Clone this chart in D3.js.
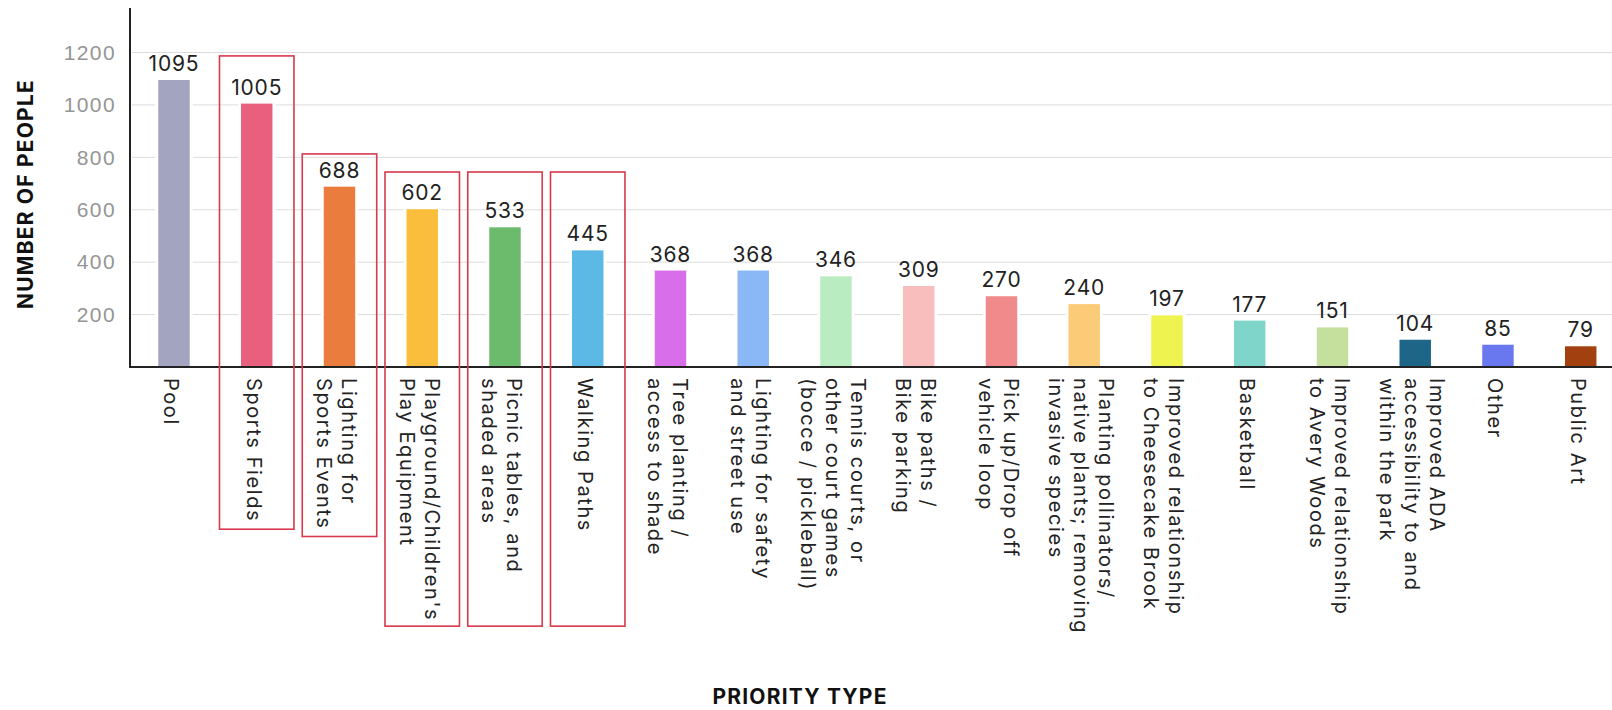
<!DOCTYPE html>
<html lang="en">

<head>
    <meta charset="UTF-8">
    <title>Priority Type</title>
    <script src="https://d3js.org/d3.v7.min.js"></script>
    <style>
        body { margin: 0; background: #fff; }
        svg { display: block; font-family: "Inter", "DejaVu Sans", sans-serif; }
        .grid line { stroke: #dcdcdc; stroke-width: 1px; }
        .ytick text { fill: #959595; font-size: 21px; letter-spacing: 1.4px; font-weight: 300; }
        .value { fill: #222; font-size: 21px; letter-spacing: 0.8px; text-anchor: middle; }
        .cat text { fill: #222; font-size: 20px; letter-spacing: 1.6px; }
        .title { fill: #111; font-size: 21px; font-weight: bold; letter-spacing: 1.2px; }
    </style>
</head>

<body>
    <svg width="1612" height="710"></svg>

    <script>
        const width = 1612;
        const height = 710;

        // 数据
        const categories = [
            "Pool", "Sports Fields", "Lighting for Sports Events",
            "Playground/Children's Play Equipment", "Picnic tables, and shaded areas",
            "Walking Paths", "Tree planting / access to shade", "Lighting for safety and street use",
            "Tennis courts, or other court games (bocce / pickleball)", "Bike paths / Bike parking",
            "Pick up/Drop off vehicle loop", "Planting pollinators/ native plants; removing invasive species",
            "Improved relationship to Cheesecake Brook", "Basketball",
            "Improved relationship to Avery Woods", "Improved ADA accessibility to and within the park",
            "Other", "Public Art"
        ];
        const labelLines = [
            ["Pool"], ["Sports Fields"], ["Lighting for", "Sports Events"],
            ["Playground/Children's", "Play Equipment"], ["Picnic tables, and", "shaded areas"],
            ["Walking Paths"], ["Tree planting /", "access to shade"], ["Lighting for safety", "and street use"],
            ["Tennis courts, or", "other court games", "(bocce / pickleball)"], ["Bike paths /", "Bike parking"],
            ["Pick up/Drop off", "vehicle loop"], ["Planting pollinators/", "native plants; removing", "invasive species"],
            ["Improved relationship", "to Cheesecake Brook"], ["Basketball"],
            ["Improved relationship", "to Avery Woods"], ["Improved ADA", "accessibility to and", "within the park"],
            ["Other"], ["Public Art"]
        ];
        const values = [1095, 1005, 688, 602, 533, 445, 368, 368, 346, 309, 270, 240, 197, 177, 151, 104, 85, 79];
        const colors = [
            "#a3a4bf", "#e95f7e", "#ea7d3e", "#fbbe3c", "#6cba6b", "#5cb8e5",
            "#d86ee9", "#8ab7f6", "#b9edc1", "#f8bebe", "#f18b8b", "#fccb78",
            "#eef350", "#80d5cb", "#c5df9c", "#1d6688", "#6a78ef", "#a2410f"
        ];
        const yTicks = [200, 400, 600, 800, 1000, 1200];

        // 红框标注
        const highlights = ["Sports Fields", "Lighting for Sports Events",
            "Playground/Children's Play Equipment", "Picnic tables, and shaded areas", "Walking Paths"];
        const highlightTops = [1187, 813, 744, 744, 744];
        const highlightShared = [false, false, true, true, true];

        const axisX = 130;
        const baseY = 367;
        const labelTop = 378;

        const svg = d3.select("svg");

        const x = d3.scaleBand()
            .domain(categories)
            .range([129.3, 1625.4])
            .paddingInner(0.62)
            .paddingOuter(0.35);

        const y = d3.scaleLinear().domain([0, 1200]).range([baseY, 52.5]);

        // 网格线
        svg.append("g").attr("class", "grid")
            .selectAll("line").data(yTicks).enter().append("line")
            .attr("x1", axisX + 2).attr("x2", width)
            .attr("y1", d => y(d)).attr("y2", d => y(d));

        // y轴刻度
        const yAxis = svg.append("g").attr("class", "ytick")
            .attr("transform", `translate(${axisX},0)`)
            .call(d3.axisLeft(y).tickValues(yTicks).tickFormat(d3.format("d")).tickSize(0).tickPadding(14));
        yAxis.select(".domain").remove();
        yAxis.selectAll("text").attr("font-family", null).attr("font-size", null).attr("fill", null);

        // 柱子
        const bars = svg.append("g");
        bars.selectAll(".halo").data(categories).enter().append("rect")
            .attr("x", d => x(d) - 3)
            .attr("y", (d, i) => y(values[i]) - 3)
            .attr("width", x.bandwidth() + 6)
            .attr("height", (d, i) => baseY - y(values[i]) + 3)
            .attr("fill", "#fff");

        // 坐标轴线
        svg.append("line").attr("x1", axisX).attr("x2", axisX).attr("y1", 8).attr("y2", baseY + 1)
            .attr("stroke", "#222").attr("stroke-width", 2);
        svg.append("line").attr("x1", axisX - 1).attr("x2", width).attr("y1", baseY).attr("y2", baseY)
            .attr("stroke", "#222").attr("stroke-width", 2);

        bars.selectAll(".bar").data(categories).enter().append("rect")
            .attr("class", "bar")
            .attr("x", d => x(d))
            .attr("y", (d, i) => y(values[i]))
            .attr("width", x.bandwidth())
            .attr("height", (d, i) => baseY - y(values[i]))
            .attr("fill", (d, i) => colors[i]);

        // 数值标签
        svg.selectAll(".value").data(categories).enter().append("text")
            .attr("class", "value")
            .attr("x", d => x(d) + x.bandwidth() / 2)
            .attr("y", (d, i) => y(values[i]) - 9)
            .text((d, i) => values[i]);

        // 类别标签 (竖排)
        const lineH = 25;
        const cats = svg.selectAll(".cat").data(categories).enter().append("g")
            .attr("class", "cat")
            .attr("transform", d => `translate(${x(d) + x.bandwidth() / 2 - 3},${labelTop}) rotate(90)`);
        cats.each(function (d, i) {
            const lines = labelLines[i];
            const g = d3.select(this);
            lines.forEach((t, k) => {
                g.append("text")
                    .attr("x", 0)
                    .attr("y", (k - (lines.length - 1) / 2) * lineH)
                    .attr("dominant-baseline", "central")
                    .text(t);
            });
        });

        // 标签底部
        const textEnd = {};
        cats.each(function (d) {
            const b = this.getBBox();
            textEnd[d] = labelTop + b.x + b.width;
        });
        const sharedBottom = d3.max(highlights.filter((h, i) => highlightShared[i]), h => textEnd[h]) + 5;

        svg.selectAll(".hl").data(highlights).enter().append("rect")
            .attr("class", "hl")
            .attr("x", d => x(d) + x.bandwidth() / 2 - x.step() * 0.45)
            .attr("y", (d, i) => y(highlightTops[i]))
            .attr("width", x.step() * 0.9)
            .attr("height", (d, i) => (highlightShared[i] ? sharedBottom : textEnd[d] + 7) - y(highlightTops[i]))
            .attr("fill", "none")
            .attr("stroke", "#d8394c")
            .attr("stroke-width", 1.6);

        // 轴标题
        svg.append("text").attr("class", "title")
            .attr("transform", "translate(33,194) rotate(-90)")
            .attr("text-anchor", "middle")
            .text("NUMBER OF PEOPLE");

        svg.append("text").attr("class", "title")
            .attr("x", 800).attr("y", 704)
            .attr("text-anchor", "middle")
            .text("PRIORITY TYPE");
    </script>
</body>

</html>
